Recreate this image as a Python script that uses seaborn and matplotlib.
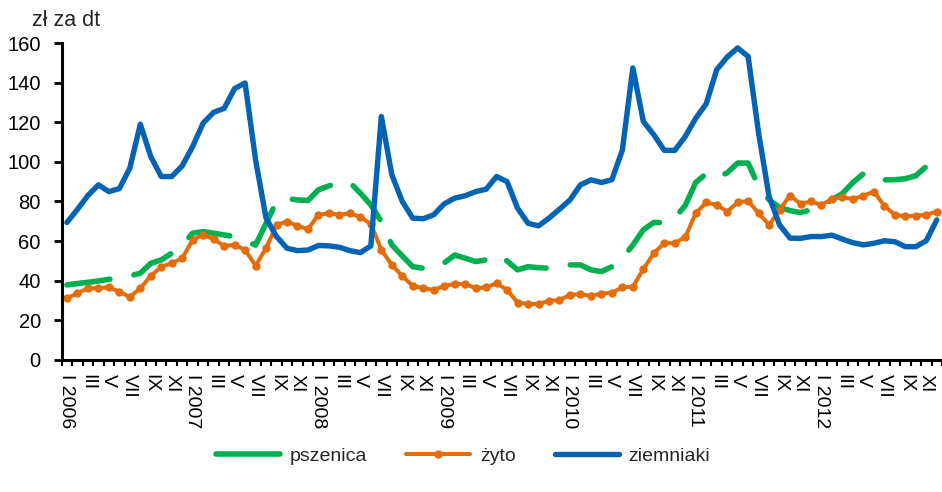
import numpy as np
import pandas as pd
import matplotlib
matplotlib.use("Agg")
import matplotlib.pyplot as plt
from matplotlib.lines import Line2D
import seaborn as sns

# monthly prices, I 2006 - XII 2012 (zł za dt)
years = [2006, 2007, 2008, 2009, 2010, 2011, 2012]
months = ["I", "II", "III", "IV", "V", "VI", "VII", "VIII", "IX", "X", "XI", "XII"]

pszenica = [37.9, 38.6, 39.2, 39.9, 40.7, 41.7, 42.5, 43.8, 48.8, 50.5, 53.9, 58.0,
            64.0, 64.8, 64.0, 63.1, 62.3, 60.0, 58.0, 69.0, 80.0, 81.5, 80.8, 80.5,
            85.9, 87.9, 89.5, 89.6, 84.2, 78.3, 69.9, 58.1, 52.5, 47.1, 46.3, 46.3,
            49.0, 53.0, 51.4, 49.7, 50.5, 53.0, 50.0, 45.5, 47.1, 46.6, 46.3, 47.1,
            48.0, 48.0, 45.5, 44.6, 47.1, 51.5, 58.0, 65.7, 69.4, 69.4, 71.6, 78.0,
            89.6, 94.0, 91.8, 94.5, 99.4, 99.4, 87.6, 80.8, 77.0, 75.4, 74.4, 75.8,
            77.8, 80.8, 84.0, 89.6, 94.0, 90.9, 90.9, 91.0, 91.5, 93.0, 97.7, 102.4]

zyto = [31.2, 33.7, 36.2, 36.2, 36.7, 34.5, 31.8, 36.2, 42.4, 47.1, 48.8, 51.4,
        60.6, 63.1, 61.0, 57.6, 58.1, 55.6, 47.6, 56.4, 68.2, 69.9, 67.7, 66.0,
        73.3, 74.1, 73.3, 74.1, 72.1, 68.7, 55.6, 48.0, 42.4, 37.4, 36.2, 35.4,
        37.4, 38.4, 38.4, 36.2, 36.7, 38.7, 35.4, 29.0, 28.3, 28.3, 29.8, 30.3,
        32.8, 33.3, 32.3, 33.5, 34.0, 36.7, 37.0, 45.8, 53.9, 59.0, 59.0, 62.0,
        74.1, 79.5, 78.3, 74.9, 79.5, 80.3, 74.1, 68.2, 75.8, 83.0, 78.8, 80.0,
        78.3, 81.3, 82.2, 81.2, 82.9, 85.0, 77.8, 73.3, 72.5, 72.8, 73.3, 74.9]

ziemniaki = [69.4, 76.0, 83.0, 88.4, 85.0, 86.5, 96.8, 119.0, 102.7, 92.6, 92.6, 98.0,
             107.8, 119.6, 125.0, 127.0, 137.0, 139.8, 101.0, 71.6, 62.3, 56.4, 55.2, 55.5,
             57.8, 57.6, 56.9, 55.2, 54.2, 57.6, 122.9, 93.5, 80.0, 71.6, 71.3, 73.3,
             78.8, 81.7, 82.9, 85.0, 86.2, 92.6, 90.0, 76.6, 69.0, 67.7, 71.6, 76.1,
             80.8, 88.4, 90.9, 89.6, 91.0, 106.0, 147.4, 120.4, 113.7, 105.8, 105.8, 112.8,
             122.0, 129.3, 146.5, 152.9, 157.5, 153.2, 114.5, 82.5, 68.2, 61.5, 61.4, 62.3,
             62.3, 63.0, 61.0, 59.2, 58.1, 58.9, 60.2, 59.7, 57.2, 57.2, 60.2, 70.7]

series_names = ["pszenica", "żyto", "ziemniaki"]
colors = {"pszenica": "#00B050", "żyto": "#E46C0A", "ziemniaki": "#0563B4"}

n = len(years) * len(months)
df = pd.DataFrame({
    "idx": np.arange(n),
    "pszenica": pszenica,
    "żyto": zyto,
    "ziemniaki": ziemniaki,
})

sns.set_theme(style="ticks")
plt.rcParams["font.family"] = ["Liberation Sans", "DejaVu Sans"]

fig = plt.figure(figsize=(9.42, 4.92), dpi=100)
ax = fig.add_axes([0.0655, 0.2683, 0.9345, 0.6443])

sns.lineplot(data=df, x="idx", y="pszenica", ax=ax, color=colors["pszenica"],
             linewidth=4.0, linestyle=(0, (7.8, 4.4)), dash_capstyle="round",
             dash_joinstyle="round")
sns.lineplot(data=df, x="idx", y="żyto", ax=ax, color=colors["żyto"],
             linewidth=2.9, marker="o", markersize=6, markeredgewidth=0,
             solid_capstyle="round")
sns.lineplot(data=df, x="idx", y="ziemniaki", ax=ax, color=colors["ziemniaki"],
             linewidth=3.9, solid_capstyle="round", solid_joinstyle="round")

if ax.get_legend() is not None:
    ax.get_legend().remove()

ax.set_xlim(-0.5, 83.2)
ax.set_ylim(0, 160)
ax.set_yticks(np.arange(0, 161, 20))

# labels every second month, year under January
tick_pos = np.arange(0, n, 2)
tick_lab = []
for p in tick_pos:
    m = months[p % 12]
    if p % 12 == 0:
        tick_lab.append(f"{m} {years[p // 12]}")
    else:
        tick_lab.append(m)
ax.set_xticks(tick_pos)
ax.set_xticklabels(tick_lab, rotation=270, ha="center", va="top")
ax.set_xticks(np.arange(-0.5, n, 1), minor=True)

ax.tick_params(axis="x", which="major", length=0, pad=10, labelsize=14, colors="black")
ax.tick_params(axis="x", which="minor", length=4, width=1.5, direction="out", color="black")
ax.tick_params(axis="y", length=6, width=2, direction="out", pad=9, labelsize=14.5,
               colors="black")

ax.set_xlabel("")
ax.set_ylabel("")
sns.despine(ax=ax)
for s in ["left", "bottom"]:
    ax.spines[s].set_linewidth(2.2)
    ax.spines[s].set_color("black")

fig.text(32 / 942, 1 - 21 / 492, "zł za dt", fontsize=15.5, va="center", ha="left")

handles = [
    Line2D([], [], color=colors["pszenica"], linewidth=4.0, solid_capstyle="round"),
    Line2D([], [], color=colors["żyto"], linewidth=2.9, marker="o", markersize=6,
           markeredgewidth=0),
    Line2D([], [], color=colors["ziemniaki"], linewidth=3.9, solid_capstyle="round"),
]
fig.legend(handles, series_names, loc="center", bbox_to_anchor=(463 / 942, 36 / 492),
           ncol=3, frameon=False, fontsize=14, handlelength=3.3, handletextpad=0.5,
           columnspacing=2.0, borderaxespad=0)

fig.savefig("out.png", dpi=100)
